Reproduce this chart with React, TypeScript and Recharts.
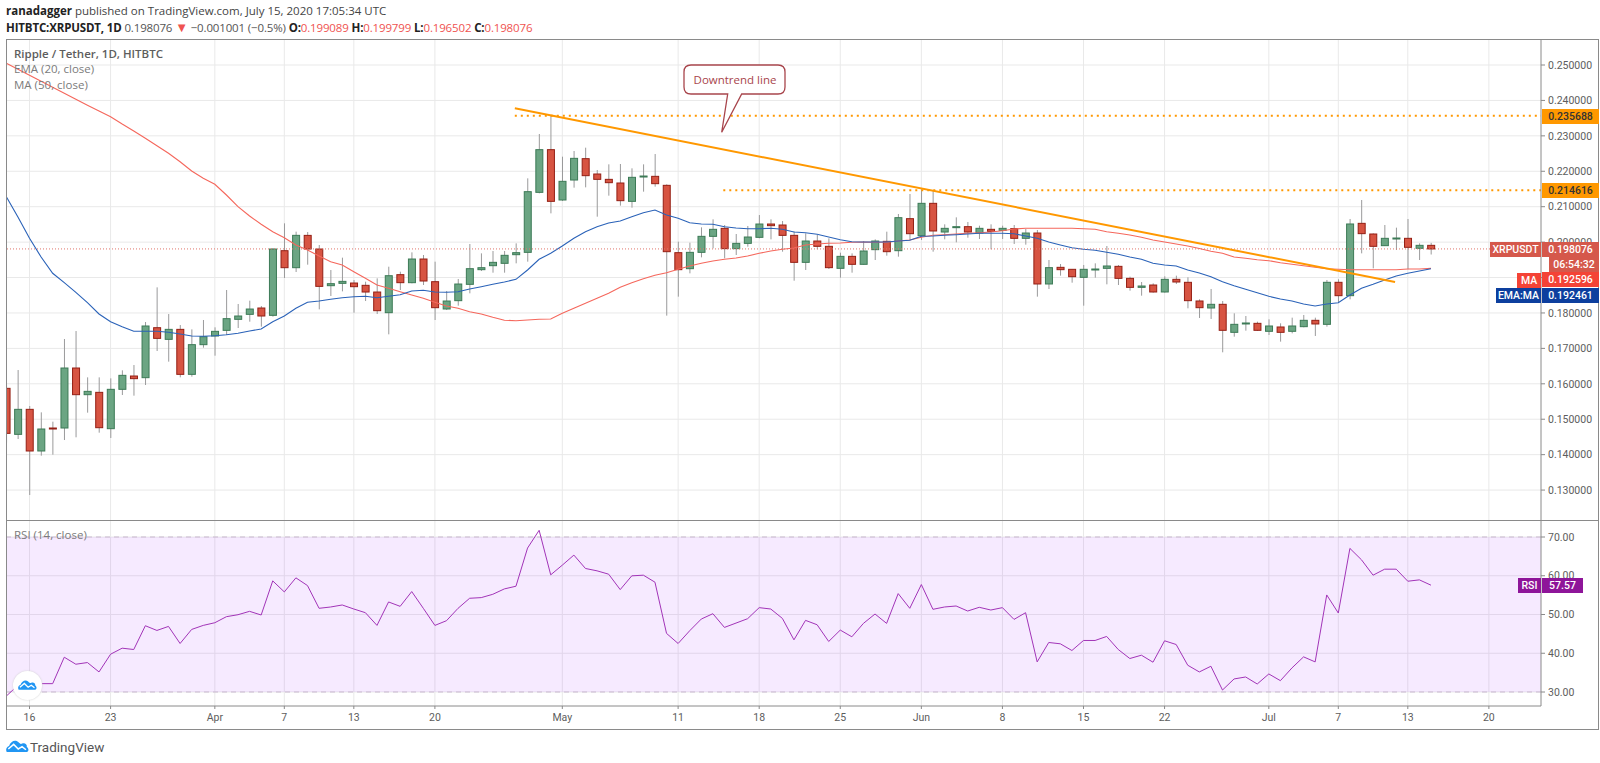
import React from 'react';
import { Bar, CartesianGrid, ComposedChart, Line, LineChart, ReferenceArea, ReferenceLine, XAxis, YAxis } from 'recharts';

// day 0 is Mar 16, the first candle sits two days earlier
const firstDay = -2;

const opens = [
  0.15872, 0.14573, 0.15279, 0.14103, 0.14752, 0.14752, 0.16446, 0.15693, 0.15759, 0.14733, 0.15844, 0.1622, 0.16173, 0.17584, 0.17255, 0.17537,
  0.16267, 0.17105, 0.17349, 0.17509, 0.1782, 0.17961, 0.1814, 0.17933, 0.19758, 0.19278, 0.2019, 0.19805, 0.1877, 0.18836, 0.18845, 0.1878,
  0.18591, 0.18008, 0.19081, 0.18855, 0.19523, 0.18883, 0.18112, 0.18347, 0.18808, 0.19222, 0.19335, 0.19401, 0.19645, 0.19711, 0.21405, 0.2261,
  0.21189, 0.21753, 0.22356, 0.21923, 0.21772, 0.21669, 0.21151, 0.21847, 0.21857, 0.21603, 0.19702, 0.1925, 0.19711, 0.20163, 0.20389, 0.19815,
  0.19965, 0.20135, 0.20511, 0.20483, 0.20191, 0.19429, 0.20031, 0.19881, 0.1926, 0.19598, 0.19373, 0.19787, 0.20022, 0.19758, 0.20662, 0.20182,
  0.21095, 0.20285, 0.20408, 0.20436, 0.20257, 0.20361, 0.20332, 0.2038, 0.20107, 0.20257, 0.18818, 0.19288, 0.19232, 0.19006, 0.19222, 0.1926,
  0.19316, 0.18977, 0.18723, 0.18789, 0.18592, 0.18949, 0.18865, 0.18338, 0.1814, 0.18244, 0.17453, 0.17698, 0.17707, 0.17482, 0.17604, 0.17482,
  0.17613, 0.17792, 0.17679, 0.18865, 0.18488, 0.2053, 0.20229, 0.199, 0.20098, 0.20107, 0.19825, 0.199089,
];
const closes = [
  0.14601, 0.15279, 0.14103, 0.14724, 0.14724, 0.16446, 0.15693, 0.15787, 0.14761, 0.15844, 0.16239, 0.16145, 0.17632, 0.17283, 0.17537, 0.16267,
  0.17105, 0.1733, 0.17481, 0.17839, 0.17914, 0.18111, 0.17914, 0.19805, 0.19278, 0.20191, 0.19805, 0.18751, 0.18827, 0.18892, 0.18742, 0.18591,
  0.18064, 0.19052, 0.18855, 0.19523, 0.18902, 0.18149, 0.18337, 0.18817, 0.1925, 0.19278, 0.19429, 0.19627, 0.19702, 0.21424, 0.2261, 0.21151,
  0.21716, 0.22365, 0.21876, 0.21772, 0.21678, 0.2117, 0.21829, 0.21866, 0.2165, 0.1973, 0.19222, 0.19711, 0.20163, 0.20361, 0.19815, 0.19965,
  0.20144, 0.20511, 0.20464, 0.20191, 0.19429, 0.20031, 0.19881, 0.19279, 0.19598, 0.19373, 0.19749, 0.20031, 0.1973, 0.2069, 0.20238, 0.21095,
  0.20314, 0.20389, 0.20436, 0.20285, 0.20389, 0.20304, 0.20389, 0.20107, 0.20257, 0.18818, 0.19279, 0.19222, 0.19024, 0.19232, 0.19241, 0.19326,
  0.18977, 0.18723, 0.18761, 0.18592, 0.18949, 0.18874, 0.18347, 0.18149, 0.18244, 0.1751, 0.17679, 0.17717, 0.1751, 0.17632, 0.17453, 0.17632,
  0.17792, 0.17689, 0.18865, 0.18488, 0.20512, 0.20239, 0.19881, 0.20107, 0.20116, 0.19853, 0.19909, 0.198076,
];
const highs = [
  0.15966, 0.16389, 0.15373, 0.15194, 0.14931, 0.17264, 0.1749, 0.16182, 0.16182, 0.16154, 0.1638, 0.1653, 0.17744, 0.18723, 0.1797, 0.17659,
  0.17537, 0.17801, 0.17594, 0.18648, 0.18253, 0.18347, 0.18196, 0.19824, 0.2053, 0.20295, 0.20285, 0.19918, 0.19212, 0.19561, 0.1893, 0.18883,
  0.18977, 0.19306, 0.19165, 0.19711, 0.19636, 0.19448, 0.1862, 0.18959, 0.19947, 0.19683, 0.19749, 0.19749, 0.19965, 0.218, 0.23052, 0.235688,
  0.22412, 0.22572, 0.22666, 0.22036, 0.22196, 0.22205, 0.22083, 0.22196, 0.22487, 0.21631, 0.20012, 0.19984, 0.20417, 0.20643, 0.20483, 0.20229,
  0.20455, 0.20765, 0.20643, 0.20596, 0.20304, 0.20248, 0.20201, 0.20107, 0.19702, 0.19683, 0.20031, 0.20078, 0.20295, 0.20794, 0.21358, 0.2149,
  0.21471, 0.20502, 0.20699, 0.20568, 0.20464, 0.20502, 0.20464, 0.20483, 0.2037, 0.20342, 0.19495, 0.19382, 0.19241, 0.19354, 0.19401, 0.1989,
  0.19354, 0.19024, 0.18874, 0.18836, 0.19034, 0.19053, 0.19006, 0.18385, 0.18677, 0.18338, 0.1799, 0.17914, 0.17754, 0.1782, 0.17707, 0.17867,
  0.17943, 0.17867, 0.18931, 0.1895, 0.20653, 0.21189, 0.20248, 0.20483, 0.20408, 0.20653, 0.19966, 0.199799,
];
const lows = [
  0.14338, 0.14441, 0.12861, 0.13971, 0.13999, 0.14413, 0.14489, 0.15185, 0.1462, 0.1447, 0.15684, 0.15665, 0.15966, 0.16926, 0.16625, 0.16182,
  0.16201, 0.1702, 0.16794, 0.17377, 0.17575, 0.17754, 0.17613, 0.17895, 0.18987, 0.19156, 0.19363, 0.18102, 0.18478, 0.1861, 0.18008, 0.18337,
  0.1797, 0.17396, 0.18648, 0.18836, 0.18789, 0.17801, 0.18083, 0.18206, 0.18554, 0.19184, 0.19137, 0.19137, 0.19401, 0.19448, 0.21377, 0.20812,
  0.2116, 0.21537, 0.21546, 0.20718, 0.21311, 0.21029, 0.20972, 0.21424, 0.21565, 0.17924, 0.1846, 0.19118, 0.1957, 0.19824, 0.19542, 0.19636,
  0.19871, 0.20107, 0.20078, 0.1973, 0.18911, 0.19213, 0.19796, 0.19241, 0.18996, 0.19137, 0.19363, 0.19495, 0.19617, 0.19589, 0.2006, 0.2006,
  0.1973, 0.20078, 0.19994, 0.20125, 0.20088, 0.19796, 0.20088, 0.19947, 0.19928, 0.1846, 0.18676, 0.19053, 0.18855, 0.18206, 0.18996, 0.18808,
  0.18789, 0.18629, 0.18488, 0.18573, 0.18573, 0.18818, 0.18131, 0.17858, 0.1783, 0.16889, 0.17331, 0.175, 0.17491, 0.17378, 0.1719, 0.17425,
  0.17594, 0.1735, 0.17613, 0.18291, 0.18385, 0.19683, 0.1926, 0.19891, 0.19778, 0.19232, 0.19495, 0.196502,
];
const ema20 = [
  0.21282, 0.20709, 0.20108, 0.1958, 0.1912, 0.18855, 0.18583, 0.1829, 0.17971, 0.17753, 0.17612, 0.17483, 0.17483, 0.17483, 0.17454, 0.17406,
  0.1735, 0.17341, 0.17358, 0.17386, 0.17426, 0.17491, 0.17547, 0.17753, 0.17914, 0.18132, 0.18301, 0.18338, 0.18386, 0.18431, 0.18459, 0.1847,
  0.18431, 0.1847, 0.18516, 0.1862, 0.1864, 0.18592, 0.18583, 0.186, 0.18677, 0.18741, 0.18809, 0.18874, 0.1895, 0.19213, 0.19515, 0.19684,
  0.1989, 0.20108, 0.20294, 0.20435, 0.2054, 0.20596, 0.20718, 0.2083, 0.20907, 0.20766, 0.20672, 0.20548, 0.20511, 0.20503, 0.20435, 0.20399,
  0.20379, 0.20379, 0.2039, 0.20362, 0.20286, 0.20266, 0.20221, 0.20144, 0.20068, 0.20012, 0.20003, 0.20003, 0.20003, 0.20032, 0.20051, 0.20164,
  0.20173, 0.20193, 0.20209, 0.20229, 0.20249, 0.20249, 0.20249, 0.20238, 0.20173, 0.20108, 0.20003, 0.19919, 0.19842, 0.19797, 0.19769, 0.19713,
  0.19656, 0.1958, 0.19515, 0.19402, 0.19354, 0.19326, 0.19213, 0.19128, 0.19024, 0.18883, 0.1877, 0.18668, 0.18572, 0.1847, 0.18394, 0.18338,
  0.18253, 0.18197, 0.18253, 0.1829, 0.18507, 0.18696, 0.18809, 0.18931, 0.19044, 0.1912, 0.19185, 0.192461,
];
const ma50 = [
  0.25048, 0.24879, 0.24709, 0.2454, 0.24371, 0.24201, 0.24032, 0.23862, 0.23701, 0.23541, 0.23334, 0.23137, 0.22931, 0.22722, 0.22507, 0.2227,
  0.22008, 0.21802, 0.21632, 0.2133, 0.21, 0.20737, 0.20503, 0.20294, 0.20125, 0.19919, 0.19777, 0.19608, 0.19447, 0.19354, 0.19165, 0.18979,
  0.18789, 0.18696, 0.186, 0.18507, 0.18414, 0.18301, 0.18197, 0.18132, 0.18036, 0.17971, 0.17878, 0.17793, 0.17782, 0.17801, 0.17821, 0.1783,
  0.1799, 0.18132, 0.18273, 0.18414, 0.18555, 0.18725, 0.18855, 0.18967, 0.19063, 0.19137, 0.19233, 0.19326, 0.19402, 0.19467, 0.19515, 0.19552,
  0.19608, 0.19684, 0.19749, 0.19797, 0.19834, 0.19919, 0.19947, 0.19967, 0.19975, 0.19995, 0.20003, 0.19995, 0.19995, 0.20032, 0.2006, 0.20136,
  0.20193, 0.20209, 0.20229, 0.20249, 0.20266, 0.20286, 0.20322, 0.2037, 0.2039, 0.2039, 0.2039, 0.2039, 0.2039, 0.20379, 0.20362, 0.20294,
  0.20249, 0.20201, 0.20136, 0.2006, 0.20003, 0.19947, 0.1989, 0.1982, 0.19741, 0.19684, 0.1958, 0.19543, 0.19504, 0.19475, 0.19419, 0.19374,
  0.19334, 0.19289, 0.1925, 0.19233, 0.19221, 0.19221, 0.19221, 0.19221, 0.19221, 0.19241, 0.19241, 0.192596,
];
const rsi14 = [
  28.96, 31.72, 32.16, 32.16, 32.16, 38.98, 37.17, 37.6, 35.18, 39.76, 41.31, 40.97, 47.1, 45.89, 46.93, 42.52,
  46.15, 47.19, 47.88, 49.44, 49.95, 50.82, 49.87, 58.68, 55.83, 59.46, 57.47, 51.6, 51.94, 52.46, 51.42, 50.47,
  47.19, 53.24, 52.11, 55.92, 51.6, 47.19, 48.4, 51.6, 54.19, 54.36, 55.22, 56.61, 57.3, 67.15, 71.73, 60.24,
  62.74, 65.33, 61.88, 61.27, 60.41, 56.43, 59.98, 60.15, 58.34, 45.12, 42.52, 45.81, 48.83, 50.21, 46.67, 47.79,
  48.92, 51.77, 51.42, 49, 43.47, 48.49, 47.36, 43.04, 45.98, 44.25, 47.71, 50.13, 47.71, 55.4, 51.6, 57.73,
  51.34, 51.94, 52.2, 50.9, 51.86, 51.16, 51.77, 48.74, 50.47, 37.77, 42.78, 42.44, 40.71, 43.3, 43.3, 44.34,
  40.97, 38.64, 39.5, 37.69, 43.22, 42.26, 36.91, 35.18, 36.65, 30.51, 33.37, 33.88, 32.07, 34.66, 32.93, 36.22,
  39.07, 37.77, 55.05, 50.39, 67.06, 64.12, 60.15, 61.7, 61.7, 58.59, 58.94, 57.57,
];

const dayTicks = [0, 7, 16, 22, 28, 35, 46, 56, 63, 70, 77, 84, 91, 98, 107, 113, 119, 126];
const dayLabels = ['16', '23', 'Apr', '7', '13', '20', 'May', '11', '18', '25', 'Jun', '8', '15', '22', 'Jul', '7', '13', '20'];
const priceTicks = [0.13, 0.14, 0.15, 0.16, 0.17, 0.18, 0.19, 0.2, 0.21, 0.22, 0.23, 0.24, 0.25];
const rsiTicks = [30, 40, 50, 60, 70];

const lastPrice = 0.198076;
const resistanceHigh = 0.235688;
const resistanceLow = 0.214616;

const rows = opens.map((open, i) => ({
  day: i + firstDay,
  range: [lows[i], highs[i]],
  open,
  close: closes[i],
  ema: ema20[i],
  ma: ma50[i],
  rsi: rsi14[i],
}));

const xDomain = [-2.03, 130.5];
const gridColor = '#e9e9e9';
const frameColor = '#8a8a8a';
const textColor = '#5d5d5d';
const chartFont = 'Roboto, sans-serif';

const tickLabel = (day: number) => dayLabels[dayTicks.indexOf(day)] ?? '';

const Candle = (props: any) => {
  const { x, y, width, height, payload } = props;
  const [low, high] = payload.range;
  const perUnit = height / (high - low);
  const up = payload.close >= payload.open;
  const top = y + (high - Math.max(payload.open, payload.close)) * perUnit;
  const bodyHeight = Math.max(Math.abs(payload.open - payload.close) * perUnit, 1);
  const mid = x + width / 2;
  return (
    <g>
      <line x1={mid} x2={mid} y1={y} y2={y + height} stroke="#9a9a9b" strokeWidth={1} />
      <rect
        x={x + 0.5}
        y={top}
        width={width - 1}
        height={bodyHeight}
        fill={up ? '#6ba583' : '#d75442'}
        stroke={up ? '#3c7a56' : '#941f14'}
        strokeWidth={1}
      />
    </g>
  );
};

const Badge = ({ left, top, width, bg, color = '#fff', children }: any) => (
  <div
    style={{
      position: 'absolute', left, top, width, height: 15, lineHeight: '15px', background: bg, color,
      fontFamily: chartFont, fontSize: 10.5, fontWeight: 500, textAlign: 'center',
    }}
  >
    {children}
  </div>
);

const Label = ({ left, top, color = '#7b7b7b', weight = 400, spacing = 0, children }: any) => (
  <div
    style={{
      position: 'absolute', left, top, color, fontWeight: weight, fontFamily: '"Open Sans", sans-serif',
      fontSize: 11.5, lineHeight: '16px', whiteSpace: 'nowrap', letterSpacing: spacing,
    }}
  >
    {children}
  </div>
);

const Cloud = ({ left, top, width }: any) => (
  <svg style={{ position: 'absolute', left, top }} width={width} height={width * 0.6} viewBox="0 0 30 18">
    <path
      d="M1 17 C-1 13 1 10 4 9 C6 3 12 0 16 4 C18 6 19 7 21 6 C25 4 28 8 27 10 C30 12 30 16 27 17 Z"
      fill="#2196f3"
    />
    <polyline points="3,13 10,7 16,13 21,10 26,14" fill="none" stroke="#fff" strokeWidth={2} />
  </svg>
);

export default function App() {
  return (
    <div style={{ position: 'absolute', left: 0, top: 0, width: 1600, height: 763, background: '#fff', overflow: 'hidden' }}>
      <Label left={6} top={3} color="#444">
        <b style={{ color: '#222' }}>ranadagger</b> published on TradingView.com, July 15, 2020 17:05:34 UTC
      </Label>
      <Label left={6} top={19} color="#555" spacing={-0.15}>
        <b style={{ color: '#222' }}>HITBTC:XRPUSDT, 1D</b> 0.198076 <span style={{ color: '#ef5350', fontSize: 13 }}>▼</span> −0.001001 (−0.5%){' '}
        <b style={{ color: '#222' }}>O:</b><span style={{ color: '#ef5350' }}>0.199089</span>{' '}
        <b style={{ color: '#222' }}>H:</b><span style={{ color: '#ef5350' }}>0.199799</span>{' '}
        <b style={{ color: '#222' }}>L:</b><span style={{ color: '#ef5350' }}>0.196502</span>{' '}
        <b style={{ color: '#222' }}>C:</b><span style={{ color: '#ef5350' }}>0.198076</span>
      </Label>

      <div style={{ position: 'absolute', left: 0, top: 0 }}>
        <ComposedChart width={1600} height={520} data={rows} margin={{ top: 40, right: 1, bottom: 0, left: 6 }}>
          <CartesianGrid stroke={gridColor} verticalValues={dayTicks} horizontalValues={priceTicks} />
          <XAxis dataKey="day" type="number" domain={xDomain} allowDataOverflow hide />
          <YAxis
            orientation="right"
            domain={[0.12155, 0.25706]}
            allowDataOverflow
            ticks={priceTicks}
            width={58}
            interval={0}
            tickFormatter={(v: number) => v.toFixed(6)}
            tick={{ fill: textColor, fontSize: 10.5, fontFamily: chartFont }}
            tickSize={4}
            tickMargin={3}
            stroke={frameColor}
          />
          <Bar dataKey="range" barSize={8} shape={Candle} isAnimationActive={false} />
          <Line dataKey="ma" stroke="#f5675c" strokeWidth={1.1} dot={false} type="linear" isAnimationActive={false} />
          <Line dataKey="ema" stroke="#2a62b8" strokeWidth={1.1} dot={false} type="linear" isAnimationActive={false} />
          <ReferenceLine y={lastPrice} stroke="#e0746a" strokeDasharray="1 2" />
          <ReferenceLine
            stroke="#ff9800"
            strokeWidth={2}
            strokeDasharray="2 4"
            segment={[{ x: 41.9, y: resistanceHigh }, { x: 130.5, y: resistanceHigh }]}
          />
          <ReferenceLine
            stroke="#ff9800"
            strokeWidth={2}
            strokeDasharray="2 4"
            segment={[{ x: 59.9, y: resistanceLow }, { x: 130.5, y: resistanceLow }]}
          />
          <ReferenceLine stroke="#ff9800" strokeWidth={2} segment={[{ x: 41.9, y: 0.23778 }, { x: 117.9, y: 0.18874 }]} />
        </ComposedChart>
      </div>

      <div style={{ position: 'absolute', left: 0, top: 520 }}>
        <LineChart width={1600} height={210} data={rows} margin={{ top: 0, right: 1, bottom: 0, left: 6 }}>
          <CartesianGrid stroke={gridColor} verticalValues={dayTicks} horizontalValues={rsiTicks} />
          <ReferenceArea y1={30} y2={70} fill="#9915ff" fillOpacity={0.09} stroke="none" />
          <ReferenceLine y={70} stroke="#c9b9cf" strokeDasharray="5 4" />
          <ReferenceLine y={30} stroke="#c9b9cf" strokeDasharray="5 4" />
          <XAxis
            dataKey="day"
            type="number"
            domain={xDomain}
            allowDataOverflow
            ticks={dayTicks}
            interval={0}
            height={24}
            tickFormatter={tickLabel}
            tick={{ fill: textColor, fontSize: 10.5, fontFamily: chartFont }}
            tickSize={3}
            tickMargin={5}
            stroke={frameColor}
          />
          <YAxis
            orientation="right"
            domain={[26.39, 74.39]}
            allowDataOverflow
            ticks={rsiTicks}
            width={58}
            interval={0}
            tickFormatter={(v: number) => v.toFixed(2)}
            tick={{ fill: textColor, fontSize: 10.5, fontFamily: chartFont }}
            tickSize={4}
            tickMargin={3}
            stroke={frameColor}
          />
          <Line dataKey="rsi" stroke="#a234b8" strokeWidth={1} dot={false} type="linear" isAnimationActive={false} />
        </LineChart>
      </div>

      {/* frame of the two panes */}
      <div style={{ position: 'absolute', left: 6, top: 39, width: 1593, height: 691, boxSizing: 'border-box', border: `1px solid ${frameColor}` }} />
      <div style={{ position: 'absolute', left: 6, top: 520, width: 1593, height: 1, background: frameColor }} />

      <Label left={14} top={46} color="#5d5d5d" weight={600}>Ripple / Tether, 1D, HITBTC</Label>
      <Label left={14} top={61}>EMA (20, close)</Label>
      <Label left={14} top={77}>MA (50, close)</Label>
      <Label left={14} top={527}>RSI (14, close)</Label>

      <svg style={{ position: 'absolute', left: 0, top: 0 }} width={1600} height={200}>
        <path
          d="M691 65 H778 Q785 65 785 72 V87 Q785 94 778 94 H741.7 L721.7 132.3 L727.7 94 H691 Q684 94 684 87 V72 Q684 65 691 65 Z"
          fill="#fff"
          stroke="#a8454c"
          strokeWidth={1.3}
        />
        <text x={735} y={84} textAnchor="middle" fill="#a8454c" fontFamily='"Open Sans", sans-serif' fontSize={11.5}>Downtrend line</text>
      </svg>

      <Badge left={1542} top={109} width={57} bg="#ff9800" color="#333">0.235688</Badge>
      <Badge left={1542} top={183} width={57} bg="#ff9800" color="#333">0.214616</Badge>
      <Badge left={1490} top={242} width={51} bg="#d5584b">XRPUSDT</Badge>
      <Badge left={1542} top={242} width={57} bg="#d5584b">0.198076</Badge>
      <Badge left={1549} top={257} width={50} bg="#d5584b">06:54:32</Badge>
      <Badge left={1517} top={273} width={24} bg="#f44336">MA</Badge>
      <Badge left={1542} top={272} width={57} bg="#f44336">0.192596</Badge>
      <Badge left={1496} top={288} width={45} bg="#0d3f9e">EMA:MA</Badge>
      <Badge left={1542} top={288} width={57} bg="#0d3f9e">0.192461</Badge>
      <Badge left={1518} top={578} width={23} bg="#8e1599">RSI</Badge>
      <Badge left={1542} top={578} width={41} bg="#8e1599">57.57</Badge>

      <div style={{ position: 'absolute', left: 13, top: 671, width: 29, height: 29, borderRadius: '50%', background: '#fff', boxShadow: '0 0 2px #ccc' }} />
      <Cloud left={18} top={679} width={19} />
      <Cloud left={6} top={739} width={23} />
      <div style={{ position: 'absolute', left: 30, top: 739, fontFamily: chartFont, fontSize: 13.5, color: '#555', lineHeight: '16px' }}>TradingView</div>
    </div>
  );
}
